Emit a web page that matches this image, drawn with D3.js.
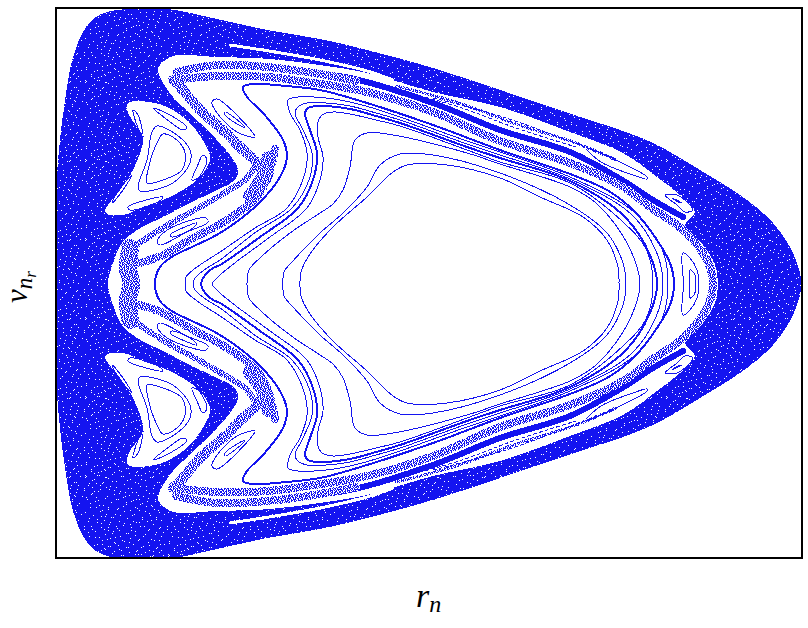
<!DOCTYPE html>
<html>
<head>
<meta charset="utf-8">
<script src="https://d3js.org/d3.v7.min.js"></script>
<style>
  body { margin: 0; background: #fff; }
  text { font-family: "Liberation Serif", serif; font-style: italic; fill: #000; }
</style>
</head>
<body>
<div id="canvas"></div>
<script>
"use strict";

let seaEdge = [[745,0],[744,11],[734,37],[717,61],[691,84],[644,114],[601,139],[567,153],[524,167],[444,194],[377,216],[311,234],[264,245],[211,254],[161,265],[111,275],[71,275],[51,272],[37,265],[27,252],[17,227],[9,184],[4,144],[1,107],[1,0]];
let regularEdge = [[662,0],[659,19],[647,39],[629,59],[639,72],[624,89],[601,107],[567,131],[514,152],[444,177],[377,192],[311,211],[264,219],[214,225],[161,227],[117,228],[104,219],[102,214],[107,201],[117,187],[127,177],[144,161],[161,144],[174,129],[182,114],[179,104],[161,94],[134,81],[107,67],[81,54],[66,41],[57,21],[52,0]];
let islandEdge = [[72,181],[94,182],[111,177],[134,161],[152,134],[154,124],[144,107],[127,94],[107,84],[87,77],[67,69],[49,72],[64,94],[77,114],[87,147],[76,164],[71,174]];

// chaotic layers
let whiteStreak = [[174,239],[219,232],[264,224],[311,213],[337,204]];
let denseBand = [[244,212],[294,206],[377,181],[444,154],[514,132],[566,104],[597,84],[627,67]];
let topBand = [[120,212],[161,219],[211,217],[264,210],[300,203]];
let ringBand = [[117,204],[161,208],[211,207],[244,203],[311,192],[377,172],[444,143],[514,121],[567,97],[594,77],[627,54],[651,24],[657,0]];
let chainBand = [[84,21],[107,29],[137,46],[171,64],[201,87],[213,110],[219,135]];
let upperBand = [[117,204],[127,194],[144,174],[167,154],[187,134],[201,121],[207,107]];
let wedgeBand = [[76,36],[110,58],[146,78],[175,95],[190,105],[201,121]];
let cornerBlob = [[195,88],[207,105],[213,125]];
let leftBlob = [[74,36],[72,15],[75,0]];
let gapBand = [[340,198],[400,182],[460,160],[520,141],[560,124]];
let dashedLine = [[377,186],[444,168],[500,148],[560,125]];
let dashedLine2 = [[340,194],[400,178],[460,156],[520,137]];

// invariant curves, left crossing first, right crossing last
let curve1 = [[244,0],[245,12],[254,30],[277,57],[311,87],[337,112],[351,119],[391,119],[444,106],[484,87],[527,67],[551,44],[562,17],[563,0]];
let curve2 = [[227,0],[228,12],[236,22],[264,51],[287,71],[311,97],[324,119],[344,130],[377,129],[444,111],[514,79],[551,51],[567,21],[570,0]];
let curve3 = [[191,0],[193,14],[205,27],[234,51],[264,71],[277,80],[287,94],[294,117],[299,144],[311,151],[337,149],[411,131],[444,120],[514,97],[540,81],[567,48],[580,20],[584,0]];
let curve4 = [[156,0],[157,2],[164,9],[180,22],[214,47],[251,76],[264,104],[267,127],[262,147],[262,162],[266,169],[277,172],[294,170],[320,164],[344,158],[411,134],[444,122],[514,101],[567,62],[590,35],[597,0]];
let curve5 = [[145,0],[147,6],[157,16],[164,19],[204,47],[242,76],[257,104],[261,131],[254,154],[249,171],[252,176],[263,178],[294,175],[320,168],[344,161],[411,137],[444,126],[514,103],[569,67],[594,29],[601,0]];
let curve6 = [[137,0],[139,6],[151,16],[164,24],[200,52],[236,76],[254,107],[256,131],[247,154],[239,171],[242,177],[251,181],[270,181],[294,178],[320,171],[344,164],[411,140],[444,129],[514,105],[575,70],[600,33],[607,0]];
let curve7 = [[130,0],[130,7],[141,17],[164,32],[199,56],[231,76],[249,111],[251,131],[244,154],[234,171],[232,184],[242,187],[270,186],[294,182],[320,175],[344,167],[411,143],[444,132],[514,107],[578,72],[606,35],[612,0]];
let curve8 = [[99,0],[99,4],[104,17],[114,26],[164,51],[201,79],[224,107],[231,127],[227,144],[207,171],[191,187],[187,197],[197,200],[230,198],[264,194],[311,181],[377,159],[444,134],[514,110],[551,94],[575,76],[594,54],[614,21],[618,0]];

// small closed loops
let lobeA = [[101,42],[111,54],[150,66],[152,62],[131,52],[104,39]];
let lobeAInner = [[114,49],[141,61],[137,56],[116,47]];
let lobeB = [[156,182],[161,185],[197,151],[199,147],[181,152],[161,171]];
let lobeBInner = [[169,172],[189,157],[187,157],[169,169]];
let triInner = [[107,150],[121,144],[129,131],[126,114],[107,104],[91,101],[92,114],[101,141]];
let triOuter = [[101,158],[121,149],[134,134],[134,121],[117,101],[84,93],[82,97],[91,124],[96,152]];
let triA = [[77,174],[82,169],[87,147],[82,156]];
let triB = [[97,176],[114,169],[131,156],[127,154],[109,166]];
let triC = [[147,129],[151,124],[142,106],[136,104],[141,117]];
let triD = [[72,77],[107,87],[102,82],[74,74]];
let triE = [[76,109],[67,94],[56,81],[61,92]];
let lensTop = [[530,136],[564,122],[591,107],[591,105],[577,109],[545,122]];
let tipOuter = [[609,89],[621,89],[632,81],[637,74],[629,72],[621,79]];
let tipInner = [[616,86],[626,81],[622,82]];
let noseOuter = [[628,0],[627,31],[634,26],[641,14],[643,0]];
let noseInner = [[634,0],[634,14],[638,11],[640,0]];

// hand placed white specks for the sea texture
let seaSpecks = [[3,2],[11,5],[14,1],[23,3],[29,7],[38,2],[44,6],[52,1],[58,5],[67,3],[74,8],[80,2],[6,9],[17,11],[20,8],[33,13],[41,10],[48,14],[55,9],[63,12],[70,14],[78,11],
  [1,16],[9,19],[15,17],[26,15],[31,20],[37,17],[46,21],[53,18],[60,22],[66,19],[76,18],[82,22],[4,25],[12,27],[22,24],[28,28],[35,25],[43,28],[50,26],[57,30],[64,27],[72,25],[79,29],
  [7,33],[16,31],[19,36],[25,33],[34,35],[40,32],[47,36],[54,34],[62,37],[69,32],[75,36],[2,38],[10,41],[14,45],[23,40],[30,43],[37,41],[44,44],[51,40],[59,43],[67,41],[73,45],[81,40],
  [5,47],[8,52],[18,49],[27,48],[33,52],[41,49],[48,53],[56,48],[61,52],[70,50],[77,53],[1,55],[12,57],[21,55],[29,59],[36,56],[45,59],[52,57],[65,56],[72,60],[80,58],
  [6,62],[16,63],[24,65],[32,63],[39,66],[47,64],[55,66],[60,62],[68,65],[76,66],[3,69],[11,71],[19,70],[27,72],[35,71],[43,73],[50,70],[58,73],[66,71],[73,74],[81,70],
  [8,76],[15,77],[22,75],[31,77],[38,76],[46,78],[54,76],[62,78],[70,77],[78,76],[13,23],[42,22],[68,46],[25,53],[50,47],[31,68],[74,21],[9,13],[56,25],[18,42]];

// chaotic band texture, one row per string, a dot is a white pixel
let ringRows = [
  "#.##..#.#.###.#.#",
  ".#.##.##..#.##..#",
  "##..#.#.##.#.#.##",
  "#.#.###..#..##.#.",
  "..##.#.#.###.#.##",
  "#.#..##.#.#..###.",
  "##.##..##.#.#.#.#",
  ".#.#.#..###..#.##",
  "#..##.##.#.##.#..",
  "##.#.#.#..#.#.###",
  ".##..#.###.#.#.#.",
  "#.#.##.#.#..##..#",
  "#..#.#..##.##.#.#",
  ".###.#.#.#.#..##.",
  "#.#..##.#..###.#.",
  "##.#.#.##.#.#.#.#"
];

let svgWidth = 808;
let svgHeight = 628;
let blue = "#1414f0";

let xScale = d3.scaleLinear().domain([0, 746]).range([56, 802]);
let yScale = d3.scaleLinear().domain([-275, 275]).range([559, 9]);

let svg = d3.select("#canvas")
  .append("svg")
  .attr("width", svgWidth)
  .attr("height", svgHeight)
  .style("display", "block");

let defs = svg.append("defs");

defs.append("clipPath").attr("id", "frame")
  .append("rect")
  .attr("x", xScale(0))
  .attr("y", yScale(275))
  .attr("width", xScale(746) - xScale(0))
  .attr("height", yScale(-275) - yScale(275));

// sea texture: blue with white specks, the swapped copy breaks up the rows
let seaAll = seaSpecks.concat(seaSpecks.map(d => [d[1], d[0] % 79]));
let seaTile = defs.append("pattern").attr("id", "seaTexture")
  .attr("patternUnits", "userSpaceOnUse")
  .attr("width", 83).attr("height", 79);
seaTile.append("rect").attr("width", 83).attr("height", 79).attr("fill", blue);
seaTile.selectAll("rect.speck").data(seaAll).enter().append("rect")
  .attr("class", "speck")
  .attr("x", d => d[0]).attr("y", d => d[1])
  .attr("width", 1).attr("height", 1)
  .attr("fill", "#fff");

// chaotic band texture
let ringSpecks = [];
ringRows.forEach((row, y) => {
  row.split("").forEach((c, x) => {
    if (c === ".") ringSpecks.push([x, y]);
  });
});
let ringTile = defs.append("pattern").attr("id", "ringTexture")
  .attr("patternUnits", "userSpaceOnUse")
  .attr("width", 17).attr("height", 16);
ringTile.append("rect").attr("width", 17).attr("height", 16).attr("fill", blue);
ringTile.selectAll("rect.speck").data(ringSpecks).enter().append("rect")
  .attr("class", "speck")
  .attr("x", d => d[0]).attr("y", d => d[1])
  .attr("width", 1).attr("height", 1)
  .attr("fill", "#fff");

let smooth = d3.line()
  .x(d => xScale(d[0]))
  .y(d => yScale(d[1]))
  .curve(d3.curveCatmullRom.alpha(0.5));

let smoothClosed = d3.line()
  .x(d => xScale(d[0]))
  .y(d => yScale(d[1]))
  .curve(d3.curveCatmullRomClosed.alpha(0.5));

function flip(pts) {
  return pts.map(d => [d[0], -d[1]]);
}

// upper half plus its mirror image, walks once round the shape
function whole(pts) {
  return pts.concat(flip(pts).reverse().slice(1));
}

let plot = svg.append("g")
  .attr("clip-path", "url(#frame)")
  .attr("shape-rendering", "crispEdges");

function fillShape(pts, fill) {
  plot.append("path").attr("d", smoothClosed(pts)).attr("fill", fill).attr("stroke", "none");
}

function strokeLine(pts, color, width, dash) {
  plot.append("path")
    .attr("d", smooth(pts))
    .attr("fill", "none")
    .attr("stroke", color)
    .attr("stroke-width", width)
    .attr("stroke-linecap", dash ? "butt" : "round")
    .attr("stroke-dasharray", dash || null);
}

function strokeLoop(pts, width) {
  plot.append("path")
    .attr("d", smoothClosed(pts))
    .attr("fill", "none")
    .attr("stroke", blue)
    .attr("stroke-width", width || 1);
}

/* sea and the white regular region */
fillShape(whole(seaEdge), "url(#seaTexture)");
fillShape(whole(regularEdge), "#fff");
[islandEdge, flip(islandEdge)].forEach(d => fillShape(d, "#fff"));

/* chaotic bands */
[whiteStreak, flip(whiteStreak)].forEach(d => strokeLine(d, "#fff", 3));
[denseBand, flip(denseBand)].forEach(d => strokeLine(d, blue, 6));
[topBand, flip(topBand)].forEach(d => strokeLine(d, "url(#ringTexture)", 8));
strokeLine(whole(ringBand), "url(#ringTexture)", 8);
[chainBand, flip(chainBand)].forEach(d => strokeLine(d, "url(#ringTexture)", 8));
[upperBand, flip(upperBand)].forEach(d => strokeLine(d, "url(#ringTexture)", 10));
[wedgeBand, flip(wedgeBand)].forEach(d => strokeLine(d, "url(#ringTexture)", 6));
[cornerBlob, flip(cornerBlob)].forEach(d => strokeLine(d, "url(#ringTexture)", 16));
[gapBand, flip(gapBand)].forEach(d => strokeLine(d, "url(#ringTexture)", 3));
strokeLine(whole(leftBlob), "url(#ringTexture)", 18);
[dashedLine, flip(dashedLine), dashedLine2, flip(dashedLine2)].forEach(d => strokeLine(d, blue, 1, "4 2"));

/* invariant curves */
[curve1, curve2, curve3, curve4, curve6, curve7].forEach(d => strokeLine(whole(d), blue, 1));
[curve5, curve8].forEach(d => strokeLine(whole(d), blue, 2));

/* loops */
let loops = [lobeA, lobeAInner, lobeB, lobeBInner, triInner, triOuter, triA, triB, triC, triD, triE, lensTop, tipOuter, tipInner];
loops.forEach(d => {
  strokeLoop(d);
  strokeLoop(flip(d));
});
[noseOuter, noseInner].forEach(d => strokeLoop(whole(d)));

/* frame */
svg.append("rect")
  .attr("x", xScale(0))
  .attr("y", yScale(275) - 1)
  .attr("width", xScale(746) - xScale(0))
  .attr("height", yScale(-275) - yScale(275))
  .attr("fill", "none")
  .attr("stroke", "#000")
  .attr("stroke-width", 2);

/* axis labels */
let xLabel = svg.append("text")
  .attr("x", 416)
  .attr("y", 607)
  .style("font-size", "34px");
xLabel.append("tspan").text("r");
xLabel.append("tspan").attr("dy", 5).style("font-size", "24px").text("n");

let yLabel = svg.append("text")
  .attr("transform", "translate(27,303) rotate(-90)")
  .style("font-size", "31px");
yLabel.append("tspan").text("v");
yLabel.append("tspan").attr("dy", 5).style("font-size", "23px").text("n");
yLabel.append("tspan").attr("dy", 4).style("font-size", "17px").text("r");
</script>
</body>
</html>
